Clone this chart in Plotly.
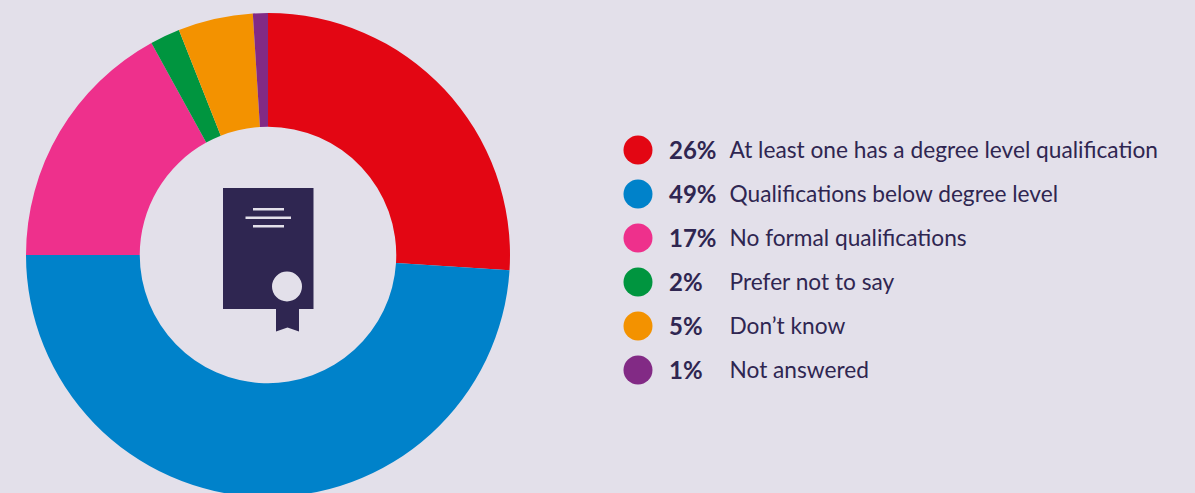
import plotly.graph_objects as go

# Survey answers
categories = ["At least one has a degree level qualification", "Qualifications below degree level",
              "No formal qualifications", "Prefer not to say", "Don’t know", "Not answered"]
shares = [26, 49, 17, 2, 5, 1]
colours = ["#E30613", "#0082CA", "#EE308C", "#00953F", "#F39200", "#822A85"]

W, H = 1195, 497
BG = "#E3E0EA"
INK = "#2F2651"
FONT = "Lato"

# Legend rows, in pixel space
row_y = [150 + 44 * i for i in range(len(categories))]
text_y = [y + 2.5 for y in row_y]

fig = go.Figure()

fig.add_trace(go.Pie(
    labels=categories, values=shares, sort=False, direction="clockwise", rotation=0,
    hole=0.53, marker=dict(colors=colours, line=dict(width=0)),
    textinfo="none", hoverinfo="skip", showlegend=False,
    domain=dict(x=[26 / W, 510 / W], y=[0, 1 - 13 / H]),
))

fig.add_trace(go.Scatter(
    x=[638] * len(row_y), y=row_y, mode="markers", hoverinfo="skip", showlegend=False,
    marker=dict(size=29, color=colours, line=dict(width=0)),
))
fig.add_trace(go.Scatter(
    x=[669] * len(row_y), y=text_y, mode="text", hoverinfo="skip", showlegend=False,
    text=[f"<b>{s}%</b>" for s in shares], textposition="middle right",
    textfont=dict(family=FONT, size=24, color=INK),
))
fig.add_trace(go.Scatter(
    x=[729.5] * len(row_y), y=text_y, mode="text", hoverinfo="skip", showlegend=False,
    text=categories, textposition="middle right",
    textfont=dict(family=FONT, size=22.7, color=INK),
))

# Certificate icon in the middle of the ring
shapes = [
    dict(type="rect", x0=223, x1=313.5, y0=188, y1=309, fillcolor=INK, line_width=0),
    dict(type="path", path="M276 309 L299 309 L299 331.5 L287.5 327.5 L276 331.5 Z", fillcolor=INK, line_width=0),
    dict(type="circle", x0=272, x1=302, y0=271.5, y1=301.5, fillcolor=BG, line_width=0),
    dict(type="rect", x0=253, x1=284, y0=208, y1=210.5, fillcolor=BG, line_width=0),
    dict(type="rect", x0=245.5, x1=291, y0=216.5, y1=219, fillcolor=BG, line_width=0),
    dict(type="rect", x0=253, x1=284, y0=225, y1=227.5, fillcolor=BG, line_width=0),
]

fig.update_layout(
    width=W, height=H, margin=dict(l=0, r=0, t=0, b=0),
    paper_bgcolor=BG, plot_bgcolor="rgba(0,0,0,0)", shapes=shapes,
    xaxis=dict(range=[0, W], visible=False, fixedrange=True),
    yaxis=dict(range=[H, 0], visible=False, fixedrange=True),
)

fig.write_html("out.html", config=dict(displayModeBar=False),
               post_script="document.documentElement.style.overflow='hidden';document.body.style.overflow='hidden';")
